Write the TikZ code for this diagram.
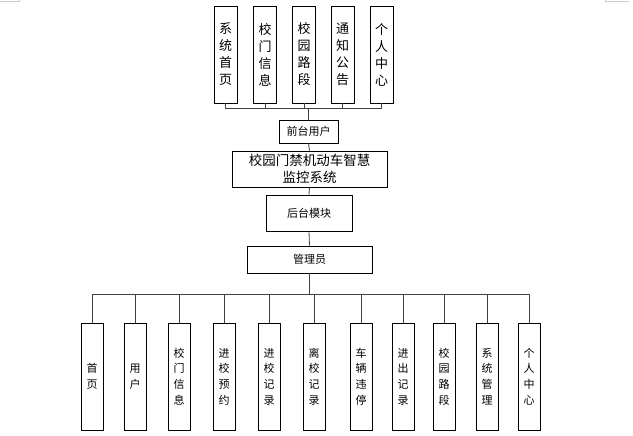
\documentclass[tikz,border=0pt]{standalone}
\usepackage{fontspec}
\setmainfont{Noto Sans CJK SC}
\usetikzlibrary{calc}

\begin{document}
\begin{tikzpicture}[
  x=1pt, y=-1pt,
  every node/.style={draw, align=center, inner sep=0pt, line width=0.8pt},
  topbox/.style={minimum width=23pt, minimum height=97pt, font=\fontsize{13}{17}\selectfont},
  midbox/.style={font=\fontsize{11}{14}\selectfont},
  botbox/.style={minimum width=22pt, minimum height=107pt, font=\fontsize{11}{15.7}\selectfont},
  link/.style={draw=black!75, line width=0.8pt}
]
\useasboundingbox (0,0) rectangle (633,436);
\draw[gray!40] (0,1) -- (19,1) -- (19,0);
\draw[gray!40] (605,0) -- (605,1) -- (629,1);

% front end modules
\node[topbox] (t1) at (225.5,54.5) {系\\统\\首\\页};
\node[topbox] (t2) at (265,54.5)   {校\\门\\信\\息};
\node[topbox] (t3) at (304,54.5)   {校\\园\\路\\段};
\node[topbox] (t4) at (342.5,54.5) {通\\知\\公\\告};
\node[topbox] (t5) at (381.5,54.5) {个\\人\\中\\心};

\node[midbox, minimum width=59pt, minimum height=23pt] (qt) at (308.5,131.5) {前台用户};
\node[minimum width=155pt, minimum height=36pt, font=\fontsize{13.5}{17}\selectfont] (sys) at (309.5,169) {校园门禁机动车智慧\\监控系统};
\node[midbox, minimum width=86pt, minimum height=36pt] (bk) at (309,213) {后台模块};
\node[midbox, minimum width=125pt, minimum height=27pt] (adm) at (309.5,259.5) {管理员};

% back end modules
\node[botbox] (b1)  at (92,376.5)  {首\\页};
\node[botbox] (b2)  at (135,376.5) {用\\户};
\node[botbox] (b3)  at (179,376.5) {校\\门\\信\\息};
\node[botbox] (b4)  at (224,376.5) {进\\校\\预\\约};
\node[botbox] (b5)  at (269,376.5) {进\\校\\记\\录};
\node[botbox] (b6)  at (314,376.5) {离\\校\\记\\录};
\node[botbox] (b7)  at (361,376.5) {车\\辆\\违\\停};
\node[botbox] (b8)  at (403,376.5) {进\\出\\记\\录};
\node[botbox] (b9)  at (444,376.5) {校\\园\\路\\段};
\node[botbox] (b10) at (487,376.5) {系\\统\\管\\理};
\node[botbox] (b11) at (529,376.5) {个\\人\\中\\心};

\foreach \t in {t1,t2,t3,t4,t5}
  \draw[link] (\t.south) -- ++(0,5) -| (qt.north);
\draw[link] (qt.south) -- (sys.north);
\draw[link] (sys.south) -- (bk.north);
\draw[link] (bk.south) -- (adm.north);
\foreach \b in {b1,b2,b3,b4,b5,b6,b7,b8,b9,b10,b11}
  \draw[link] (\b.north) -- ++(0,-28) -| (adm.south);
\end{tikzpicture}
\end{document}
